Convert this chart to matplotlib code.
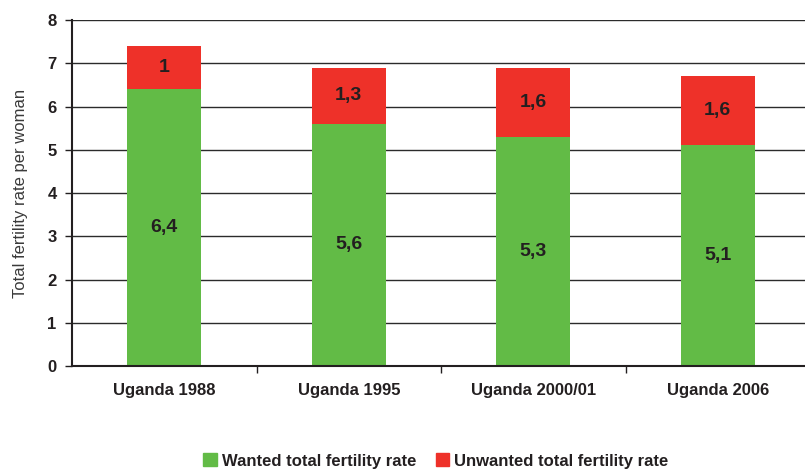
import numpy as np
import matplotlib.pyplot as plt
from matplotlib.patches import Patch

plt.rcParams['font.family'] = ['Liberation Sans', 'DejaVu Sans']

# data
surveys = ["Uganda 1988", "Uganda 1995", "Uganda 2000/01", "Uganda 2006"]
wanted = [6.4, 5.6, 5.3, 5.1]
unwanted = [1.0, 1.3, 1.6, 1.6]
wanted_labels = ["6,4", "5,6", "5,3", "5,1"]
unwanted_labels = ["1", "1,3", "1,6", "1,6"]

green = "#62bb46"
red = "#ee3129"
txt = "#231f20"

fig = plt.figure(figsize=(8.05, 4.70), dpi=100)
ax = fig.add_axes([72 / 805, 1 - 366 / 470, 738 / 805, 346 / 470])

x = np.arange(len(surveys))
ax.bar(x, wanted, width=0.4, color=green, zorder=2)
ax.bar(x, unwanted, width=0.4, bottom=wanted, color=red, zorder=2)

for i in range(len(x)):
    ax.text(x[i], wanted[i] / 2, wanted_labels[i], ha='center', va='center',
            fontsize=14, fontweight='bold', color=txt, zorder=3)
    ax.text(x[i], wanted[i] + unwanted[i] / 2, unwanted_labels[i], ha='center',
            va='center', fontsize=14, fontweight='bold', color=txt, zorder=3)

ax.set_xlim(-0.5, 3.5)
ax.set_ylim(0, 8)
ax.set_yticks(range(9))
ax.yaxis.grid(True, color='#2b2b2b', linewidth=1.0)
ax.set_axisbelow(True)

# category ticks sit between the bars
ax.set_xticks(x)
ax.set_xticklabels(surveys, fontsize=12, fontweight='bold', color=txt)
ax.tick_params(axis='x', length=0, pad=12)
ax.set_xticks(np.arange(0.5, 3.5, 1), minor=True)
ax.tick_params(axis='x', which='minor', length=5, width=1, color=txt)
ax.tick_params(axis='y', length=5, width=1, color=txt, labelsize=12,
               labelcolor=txt, pad=6)
for lab in ax.get_yticklabels():
    lab.set_fontweight('bold')

for s in ['top', 'right']:
    ax.spines[s].set_visible(False)
for s in ['left', 'bottom']:
    ax.spines[s].set_color(txt)
    ax.spines[s].set_linewidth(1.5)

ax.set_ylabel("Total fertility rate per woman", fontsize=12, color='#3a3a3a',
              labelpad=14)

handles = [Patch(color=green, label="Wanted total fertility rate"),
           Patch(color=red, label="Unwanted total fertility rate")]
leg = fig.legend(handles=handles, loc='center', bbox_to_anchor=(436 / 805, 1 - 461 / 470),
                 ncol=2, frameon=False, handlelength=0.8, handleheight=0.8,
                 handletextpad=0.3, columnspacing=1.2,
                 prop={'size': 12, 'weight': 'bold'})
for t in leg.get_texts():
    t.set_color(txt)

fig.savefig("out.png", dpi=100)
